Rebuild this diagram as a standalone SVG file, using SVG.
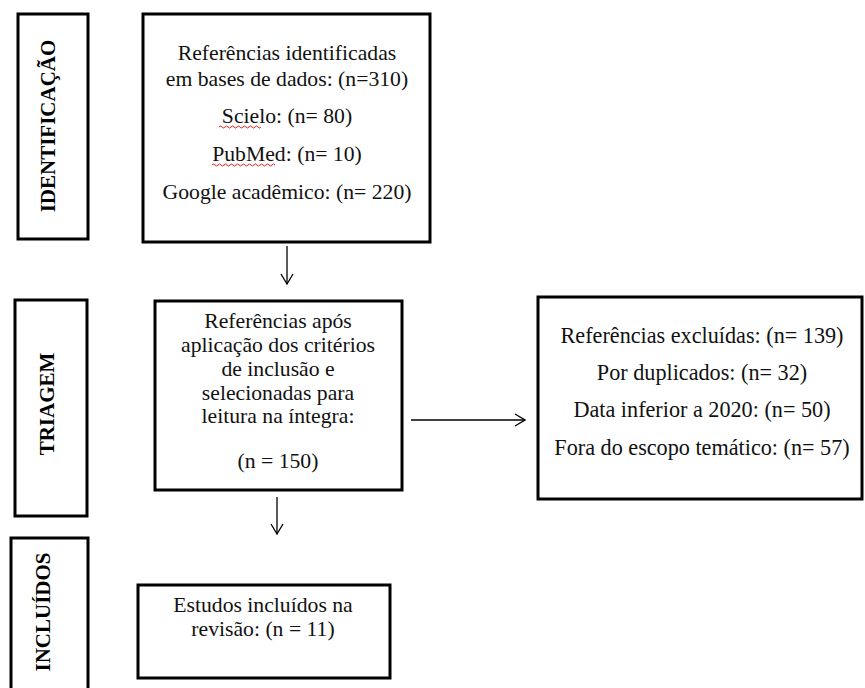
<svg xmlns="http://www.w3.org/2000/svg" width="865" height="688" viewBox="0 0 865 688">
<defs>
<style>
.box{fill:#fff;stroke:#000;stroke-width:3}
text{font-family:'Liberation Serif','Times New Roman',serif}
.t{font-size:21.7px;font-weight:400;fill:#111;text-anchor:middle}
.tr{font-size:22.2px}
.lab{font-size:21px;font-weight:bold;fill:#000;text-anchor:middle}
.con{fill:none;stroke:#000;stroke-width:1.3}
.wavy{fill:none;stroke:#e02020;stroke-width:1}
</style>
<marker id="arr" viewBox="0 0 12 14" refX="11" refY="7" markerWidth="12" markerHeight="14" markerUnits="userSpaceOnUse" orient="auto">
<path d="M1,1 L11,7 L1,13" fill="none" stroke="#000" stroke-width="1.3"/>
</marker>
</defs>
<rect width="865" height="688" fill="#fff"/>
<g id="label-identificacao">
<rect class="box" x="18" y="14" width="70" height="225"/>
<text class="lab" transform="translate(55,126) rotate(-90)">IDENTIFICAÇÃO</text>
</g>
<g id="node-identificadas">
<rect class="box" x="143" y="14" width="287" height="228"/>
<text class="t" x="287" y="60">Referências identificadas</text>
<text class="t" x="287" y="86">em bases de dados: (n=310)</text>
<text class="t" x="287" y="123">Scielo: (n= 80)</text>
<text class="t" x="287" y="161">PubMed: (n= 10)</text>
<text class="t" x="287" y="199">Google acadêmico: (n= 220)</text>
<path class="wavy" d="M219,127 q1.5,-2 3,0 t3,0 t3,0 t3,0 t3,0 t3,0 t3,0 t3,0 t3,0 t3,0 t3,0 t3,0 t3,0 t3,0"/>
<path class="wavy" d="M212,165 q1.5,-2 3,0 t3,0 t3,0 t3,0 t3,0 t3,0 t3,0 t3,0 t3,0 t3,0 t3,0 t3,0 t3,0 t3,0 t3,0 t3,0 t3,0 t3,0 t3,0 t3,0 t3,0"/>
</g>
<g id="label-triagem">
<rect class="box" x="15" y="300" width="72" height="216"/>
<text class="lab" transform="translate(54,404) rotate(-90)">TRIAGEM</text>
</g>
<g id="node-triagem">
<rect class="box" x="155" y="301" width="247" height="189"/>
<text class="t" x="278" y="328">Referências após</text>
<text class="t" x="278" y="352">aplicação dos critérios</text>
<text class="t" x="278" y="376">de inclusão e</text>
<text class="t" x="278" y="400">selecionadas para</text>
<text class="t" x="278" y="423">leitura na íntegra:</text>
<text class="t" x="278" y="468">(n = 150)</text>
</g>
<g id="node-excluidas">
<rect class="box" x="538" y="297" width="324" height="202"/>
<text class="t tr" x="702" y="343">Referências excluídas: (n= 139)</text>
<text class="t tr" x="702" y="380">Por duplicados: (n= 32)</text>
<text class="t tr" x="702" y="417">Data inferior a 2020: (n= 50)</text>
<text class="t tr" x="702" y="455">Fora do escopo temático: (n= 57)</text>
</g>
<g id="label-incluidos">
<rect class="box" x="11" y="538" width="77" height="160"/>
<text class="lab" transform="translate(50,612) rotate(-90)">INCLUÍDOS</text>
</g>
<g id="node-incluidos">
<rect class="box" x="138" y="585" width="252" height="93"/>
<text class="t" x="263" y="612">Estudos incluídos na</text>
<text class="t" x="263" y="636">revisão: (n = 11)</text>
</g>
<g id="connectors">
<line class="con" x1="287" y1="246" x2="287" y2="284" marker-end="url(#arr)"/>
<line class="con" x1="411" y1="420" x2="525" y2="420" marker-end="url(#arr)"/>
<line class="con" x1="277" y1="497" x2="277" y2="534" marker-end="url(#arr)"/>
</g>
</svg>
